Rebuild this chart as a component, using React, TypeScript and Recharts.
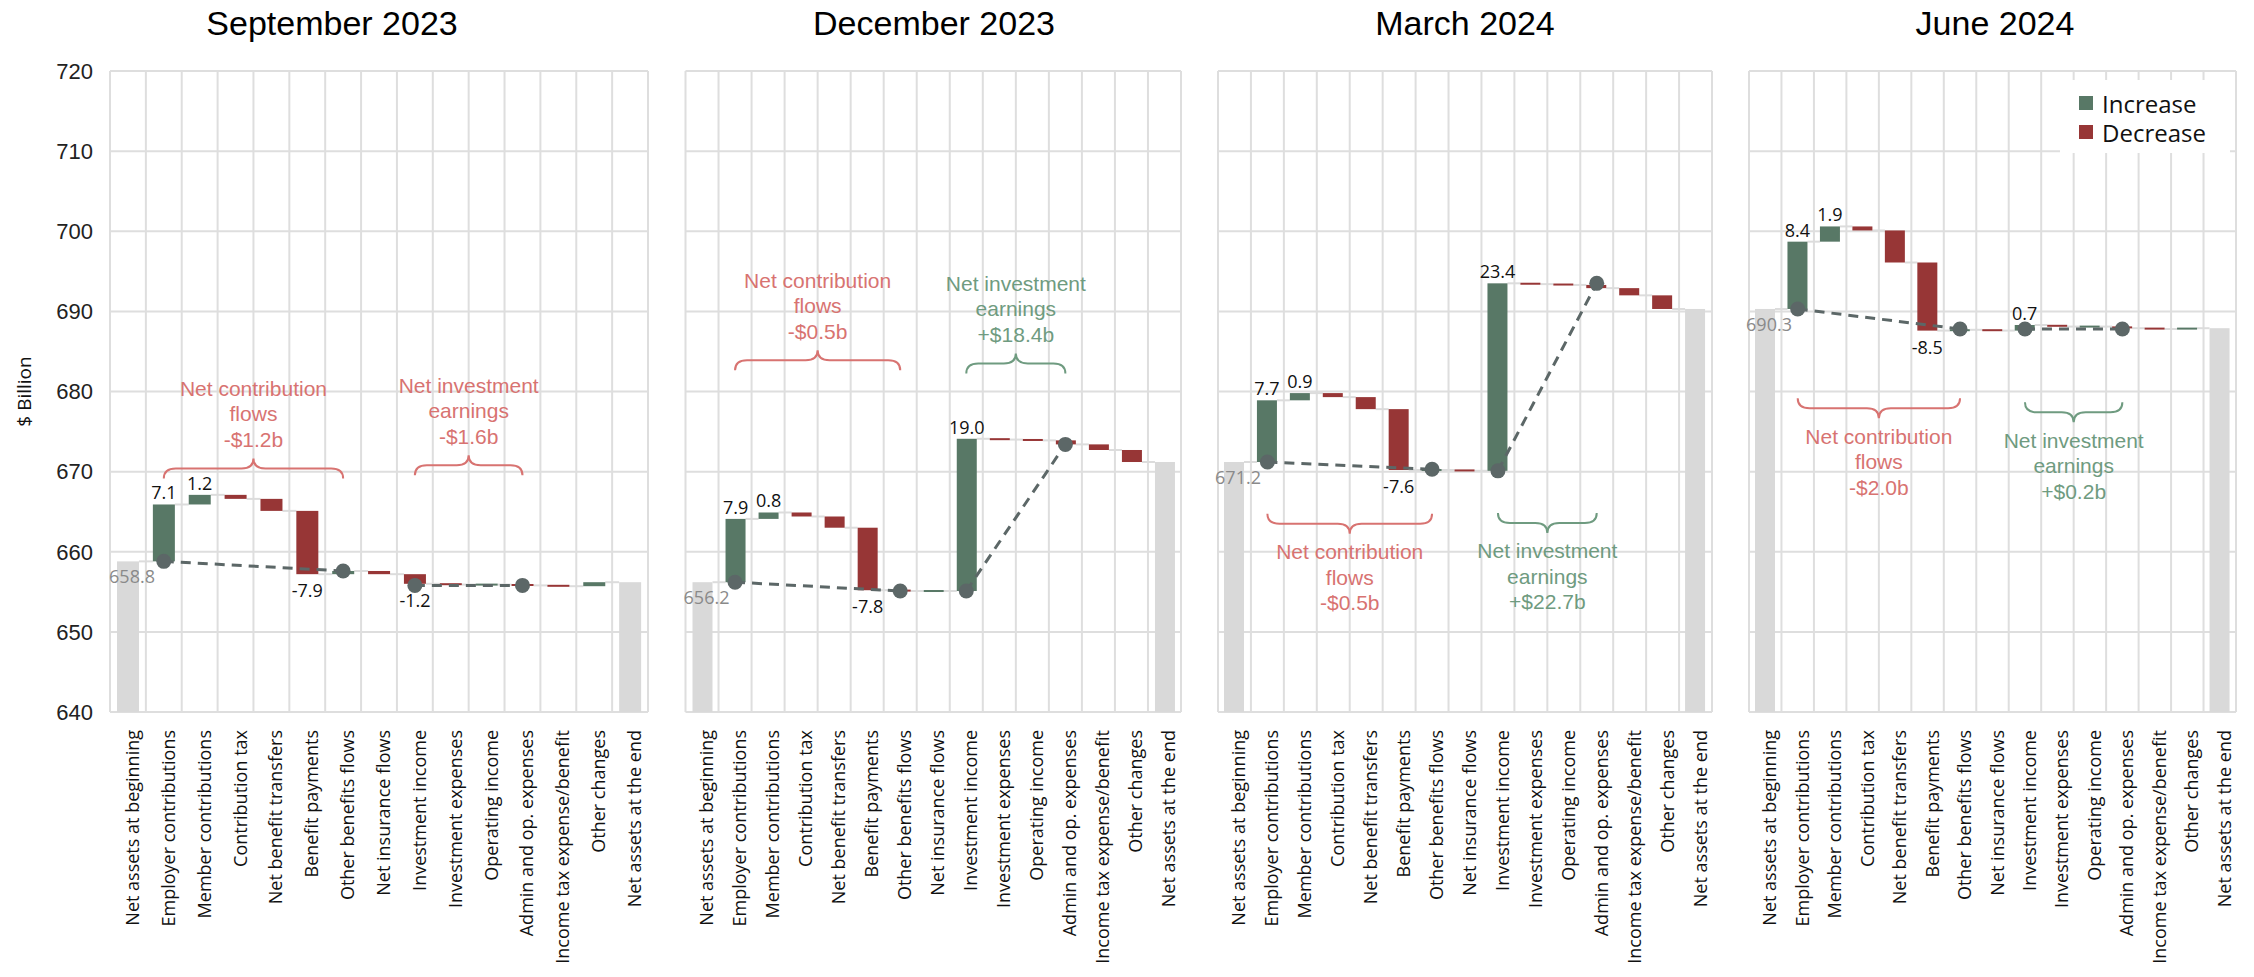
import { ComposedChart, Bar, Line, XAxis, YAxis, CartesianGrid, ReferenceLine } from "recharts";

const CATEGORIES = [
  "Net assets at beginning",
  "Employer contributions",
  "Member contributions",
  "Contribution tax",
  "Net benefit transfers",
  "Benefit payments",
  "Other benefits flows",
  "Net insurance flows",
  "Investment income",
  "Investment expenses",
  "Operating income",
  "Admin and op. expenses",
  "Income tax expense/benefit",
  "Other changes",
  "Net assets at the end",
];

// opening net assets, then the 13 movements ($b). closing balance = running total
const SEP_2023 = [658.8, 7.1, 1.2, -0.5, -1.5, -7.9, 0.4, -0.4, -1.2, -0.1, 0.0, -0.1, -0.1, 0.5];
const DEC_2023 = [656.2, 7.9, 0.8, -0.5, -1.4, -7.8, -0.1, 0.0, 19.0, -0.1, -0.1, -0.5, -0.7, -1.5];
const MAR_2024 = [671.2, 7.7, 0.9, -0.5, -1.5, -7.6, 0.0, -0.1, 23.4, -0.1, -0.1, -0.4, -0.9, -1.7];
const JUN_2024 = [690.3, 8.4, 1.9, -0.5, -4.0, -8.5, 0.1, -0.1, 0.7, -0.2, 0.0, -0.2, -0.1, 0.1];

// dots on the dashed lines: [employer contributions, other benefits flows]
const SEP_CONTRIB_DOTS = [658.8, 657.6];
const DEC_CONTRIB_DOTS = [656.2, 655.1];
const MAR_CONTRIB_DOTS = [671.2, 670.3];
const JUN_CONTRIB_DOTS = [690.3, 687.8];
// [investment income, admin and op. expenses]
const SEP_INVEST_DOTS = [655.8, 655.8];
const DEC_INVEST_DOTS = [655.1, 673.4];
const MAR_INVEST_DOTS = [670.1, 693.5];
const JUN_INVEST_DOTS = [687.8, 687.8];

// [net contribution flows, net investment earnings]
const SEP_NOTES = ["-$1.2b", "-$1.6b"];
const DEC_NOTES = ["-$0.5b", "+$18.4b"];
const MAR_NOTES = ["-$0.5b", "+$22.7b"];
const JUN_NOTES = ["-$2.0b", "+$0.2b"];
// height of the brace line on the y axis
const SEP_BRACE_Y = [670.4, 670.8];
const DEC_BRACE_Y = [683.9, 683.5];
const MAR_BRACE_Y = [663.5, 663.6];
const JUN_BRACE_Y = [677.9, 677.4];

const Y_TICKS = [640, 650, 660, 670, 680, 690, 700, 710, 720];
const LABELLED = [1, 2, 5, 8];

const GREEN = "#587866";
const RED = "#973636";
const GREY_BAR = "#d9d9d9";
const DOT = "#5c6767";
const NOTE_RED = "#d87371";
const NOTE_GREEN = "#6f9b80";
const GRID = "#dedede";

const PANELS = [
  { title: "September 2023", values: SEP_2023, cDots: SEP_CONTRIB_DOTS, iDots: SEP_INVEST_DOTS, notes: SEP_NOTES, braceY: SEP_BRACE_Y, below: false, left: 0, plotLeft: 110, plotRight: 648, titleX: 332 },
  { title: "December 2023", values: DEC_2023, cDots: DEC_CONTRIB_DOTS, iDots: DEC_INVEST_DOTS, notes: DEC_NOTES, braceY: DEC_BRACE_Y, below: false, left: 665, plotLeft: 685.5, plotRight: 1181, titleX: 934 },
  { title: "March 2024", values: MAR_2024, cDots: MAR_CONTRIB_DOTS, iDots: MAR_INVEST_DOTS, notes: MAR_NOTES, braceY: MAR_BRACE_Y, below: true, left: 1198, plotLeft: 1218, plotRight: 1712, titleX: 1465 },
  { title: "June 2024", values: JUN_2024, cDots: JUN_CONTRIB_DOTS, iDots: JUN_INVEST_DOTS, notes: JUN_NOTES, braceY: JUN_BRACE_Y, below: true, left: 1729, plotLeft: 1749, plotRight: 2236, titleX: 1995 },
];

const CHART_H = 977;
const PLOT_TOP = 71;
const PLOT_BOTTOM = 712;

function buildRows(values: number[], cDots: number[], iDots: number[]) {
  const rows: any[] = [];
  let level = values[0];
  rows.push({ name: CATEGORIES[0], range: [640, level], kind: "total", label: values[0].toFixed(1) });
  for (let i = 1; i < values.length; i++) {
    const prev = level;
    level = Math.round((level + values[i]) * 10) / 10;
    rows.push({
      name: CATEGORIES[i],
      range: [Math.min(prev, level), Math.max(prev, level)],
      kind: values[i] >= 0 ? "up" : "down",
      label: LABELLED.includes(i) ? values[i].toFixed(1) : null,
    });
  }
  rows.push({ name: CATEGORIES[14], range: [640, level], kind: "total", label: null });
  rows[1].contrib = cDots[0];
  rows[6].contrib = cDots[1];
  rows[8].invest = iDots[0];
  rows[11].invest = iDots[1];
  return rows;
}

const makeBarShape = (band: number, count: number) => (props: any) => {
  const { x, y, width, height, payload, index } = props;
  const top = Math.min(y, y + height);
  const h = Math.abs(height);
  const fill = payload.kind === "total" ? GREY_BAR : payload.kind === "up" ? GREEN : RED;
  const drawH = Math.max(h, 2);
  const drawTop = h < 2 ? top + h / 2 - 1 : top;
  const levelY = payload.kind === "down" ? top + h : top;
  const cx = x + width / 2;
  let label = null;
  if (payload.label) {
    const common = { textAnchor: "middle" as const, dominantBaseline: "central" as const, fontFamily: "Open Sans", fontSize: 18 };
    if (payload.kind === "total") label = <text x={cx + 4} y={top + 15} fill="#8a8a8a" {...common}>{payload.label}</text>;
    else if (payload.kind === "up") label = <text x={cx} y={top - 12} fill="#111" {...common}>{payload.label}</text>;
    else label = <text x={cx} y={top + h + 16} fill="#111" {...common}>{payload.label}</text>;
  }
  return (
    <g>
      {index < count - 1 && (
        <line x1={x + width} x2={x + band} y1={levelY} y2={levelY} stroke="#dcdcdc" strokeWidth={2} />
      )}
      <rect x={x} y={drawTop} width={width} height={drawH} fill={fill} />
      {label}
    </g>
  );
};

const braceShape = (lines: string[], color: string, below: boolean) => (p: any) => {
  const { x1, x2, y1 } = p;
  const xm = (x1 + x2) / 2;
  const h = 10;
  const r = 12;
  const s = below ? 1 : -1;
  const d = `M${x1},${y1 - s * h} Q${x1},${y1} ${x1 + r},${y1} L${xm - r},${y1} Q${xm},${y1} ${xm},${y1 + s * h} Q${xm},${y1} ${xm + r},${y1} L${x2 - r},${y1} Q${x2},${y1} ${x2},${y1 - s * h}`;
  const lh = 25.5;
  const first = below ? y1 + h + 18 : y1 - h - 19 - lh * (lines.length - 1);
  return (
    <g>
      <path d={d} fill="none" stroke={color} strokeWidth={2} />
      {lines.map((t, i) => (
        <text key={i} x={xm} y={first + i * lh} textAnchor="middle" dominantBaseline="central" fontFamily="Liberation Sans, Arial" fontSize={21} fill={color}>
          {t}
        </text>
      ))}
    </g>
  );
};

const xTick = (props: any) => {
  const { x, y, payload } = props;
  const tx = x + 4;
  return (
    <text x={tx} y={y} transform={`rotate(-90, ${tx}, ${y})`} textAnchor="end" dominantBaseline="central" fontFamily="Open Sans" fontSize={18} fill="#111">
      {payload.value}
    </text>
  );
};

const yTitle = (props: any) => {
  const vb = props.viewBox || {};
  const cx = (vb.x || 0) + 24;
  const cy = (vb.y || PLOT_TOP) + (vb.height || PLOT_BOTTOM - PLOT_TOP) / 2;
  return (
    <text x={cx} y={cy} transform={`rotate(-90, ${cx}, ${cy})`} textAnchor="middle" dominantBaseline="central" fontFamily="Open Sans" fontSize={19} fill="#111">
      $ Billion
    </text>
  );
};

function Panel({ panel, first }: { panel: (typeof PANELS)[number]; first: boolean }) {
  const rows = buildRows(panel.values, panel.cDots, panel.iDots);
  const yAxisW = first ? panel.plotLeft - panel.left : 0;
  const marginLeft = first ? 0 : panel.plotLeft - panel.left;
  const width = panel.plotRight - panel.left + 18;
  const plotW = panel.plotRight - panel.plotLeft;
  const band = plotW / rows.length;
  const plotH = PLOT_BOTTOM - PLOT_TOP;
  const noteColor = (n: string) => (n.startsWith("-") ? NOTE_RED : NOTE_GREEN);

  return (
    <div style={{ position: "absolute", left: panel.left, top: 0 }}>
      <ComposedChart
        width={width}
        height={CHART_H}
        data={rows}
        margin={{ top: PLOT_TOP, right: 18, bottom: 0, left: marginLeft }}
      >
        <CartesianGrid
          stroke={GRID}
          strokeWidth={2}
          verticalCoordinatesGenerator={() => Array.from({ length: rows.length + 1 }, (_, i) => panel.plotLeft - panel.left + i * band)}
          horizontalCoordinatesGenerator={() => Y_TICKS.map((t) => PLOT_TOP + ((720 - t) / 80) * plotH)}
        />
        <XAxis dataKey="name" interval={0} tick={xTick} tickLine={false} axisLine={false} tickMargin={12} height={CHART_H - PLOT_BOTTOM} />
        <YAxis
          domain={[640, 720]}
          ticks={Y_TICKS}
          hide={!first}
          width={yAxisW}
          tickLine={false}
          axisLine={false}
          tickMargin={11}
          tick={{ fontFamily: "Liberation Sans, Arial", fontSize: 22, fill: "#222" }}
          label={first ? { content: yTitle } : undefined}
        />
        <Bar dataKey="range" barSize={Math.round(band * 0.62)} shape={makeBarShape(band, rows.length)} isAnimationActive={false} />
        <ReferenceLine
          segment={[{ x: CATEGORIES[1], y: panel.braceY[0] }, { x: CATEGORIES[6], y: panel.braceY[0] }]}
          ifOverflow="visible"
          shape={braceShape(["Net contribution", "flows", panel.notes[0]], noteColor(panel.notes[0]), panel.below)}
        />
        <ReferenceLine
          segment={[{ x: CATEGORIES[8], y: panel.braceY[1] }, { x: CATEGORIES[11], y: panel.braceY[1] }]}
          ifOverflow="visible"
          shape={braceShape(["Net investment", "earnings", panel.notes[1]], noteColor(panel.notes[1]), panel.below)}
        />
        <Line dataKey="contrib" connectNulls stroke={DOT} strokeWidth={3} strokeDasharray="10 7" dot={{ r: 7.5, fill: DOT, stroke: "none" }} activeDot={false} isAnimationActive={false} />
        <Line dataKey="invest" connectNulls stroke={DOT} strokeWidth={3} strokeDasharray="10 7" dot={{ r: 7.5, fill: DOT, stroke: "none" }} activeDot={false} isAnimationActive={false} />
      </ComposedChart>
    </div>
  );
}

export default function App() {
  return (
    <div style={{ position: "absolute", left: 0, top: 0, width: 2254, height: 977, background: "#fff", overflow: "hidden" }}>
      {PANELS.map((p, i) => (
        <Panel key={p.title} panel={p} first={i === 0} />
      ))}
      {PANELS.map((p) => (
        <div
          key={p.title + "-t"}
          style={{ position: "absolute", left: p.titleX - 200, width: 400, top: 3, lineHeight: "40px", textAlign: "center", fontFamily: "Liberation Sans, Arial", fontSize: 34, color: "#000" }}
        >
          {p.title}
        </div>
      ))}
      <div style={{ position: "absolute", left: 2060, top: 80, width: 170, height: 73, background: "#fff", fontFamily: "Open Sans", fontSize: 24, color: "#111" }}>
        {[
          ["Increase", GREEN],
          ["Decrease", RED],
        ].map(([name, color], i) => (
          <div key={name} style={{ position: "absolute", left: 19, top: 23 + i * 29 - 16, height: 32, display: "flex", alignItems: "center", whiteSpace: "nowrap" }}>
            <span style={{ display: "inline-block", width: 14, height: 14, background: color, marginRight: 9 }} />
            <span>{name}</span>
          </div>
        ))}
      </div>
    </div>
  );
}
